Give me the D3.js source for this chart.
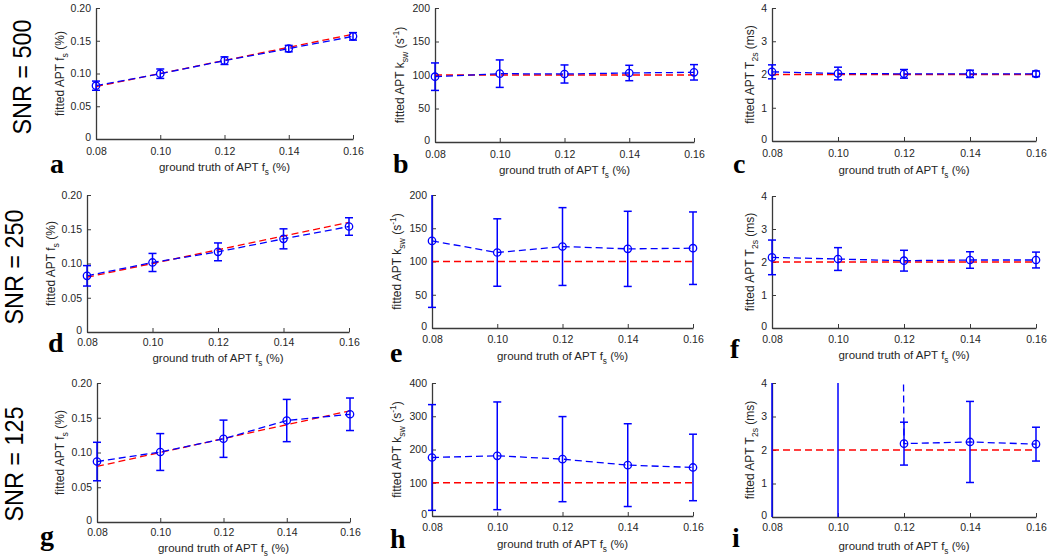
<!DOCTYPE html>
<html><head><meta charset="utf-8">
<script src="https://cdn.jsdelivr.net/npm/d3@7"></script>
<style>body{margin:0;background:#fff}svg{display:block}</style>
</head><body>
<svg id="chart" width="1050" height="560"></svg>
<script>
// ---------- data ----------
const groundTruthFs = [0.08, 0.10, 0.12, 0.14, 0.16];
const xTickValues = [0.08, 0.10, 0.12, 0.14, 0.16];
const fsTicks = [0, 0.05, 0.10, 0.15, 0.20];
const ksw200Ticks = [0, 50, 100, 150, 200];
const ksw400Ticks = [0, 100, 200, 300, 400];
const t2sTicks = [0, 1, 2, 3, 4];
const snrLabels = ["SNR = 500", "SNR = 250", "SNR = 125"];
const panelLetters = ["a", "b", "c", "d", "e", "f", "g", "h", "i"];

const trueFs = [0.08, 0.10, 0.12, 0.14, 0.16];
const trueKsw = [100, 100, 100, 100, 100];
const trueT2s = [2, 2, 2, 2, 2];

// SNR = 500
const fs500 = [0.0814, 0.0997, 0.1196, 0.1380, 0.1567];
const fs500Err = [0.0070, 0.0072, 0.0058, 0.0049, 0.0057];
const ksw500 = [97.5, 102, 101.5, 103, 104];
const ksw500Err = [20.5, 20.5, 13.5, 11.5, 11.5];
const t2s500 = [2.08, 2.03, 2.02, 2.02, 2.02];
const t2s500Err = [0.21, 0.19, 0.13, 0.11, 0.085];
// SNR = 250
const fs250 = [0.0820, 0.1015, 0.1170, 0.1360, 0.1540];
const fs250Err = [0.0149, 0.0132, 0.0130, 0.0146, 0.0128];
const ksw250 = [131, 113.5, 122.5, 119, 120];
const ksw250Err = [100, 50.7, 58.5, 56.5, 54.5];
const t2s250 = [2.14, 2.09, 2.04, 2.06, 2.06];
const t2s250Err = [0.525, 0.345, 0.315, 0.25, 0.24];
// SNR = 125 (first two T2s fits are far off the axis range: estimated)
const fs125 = [0.0870, 0.1007, 0.1198, 0.1460, 0.1550];
const fs125Err = [0.0277, 0.0265, 0.0268, 0.0304, 0.0234];
const ksw125 = [176, 181, 171, 153, 146];
const ksw125Err = [159, 162, 128, 124.5, 100];
const t2s125 = [60, 250, 2.19, 2.24, 2.175];
const t2s125Err = [900, 2000, 0.64, 1.21, 0.505];

// ---------- layout ----------
const fsLabel = [["fitted APT f"], ["s", "sub"], [" (%)"]];
const kswLabel = [["fitted APT k"], ["sw", "sub"], [" (s"], ["-1", "sup"], [")"]];
const t2sLabel = [["fitted APT T"], ["2s", "sub"], [" (ms)"]];
const xLabel = [["ground truth of APT f"], ["s", "sub"], [" (%)"]];

const fmtFs = d => d === 0 ? "0" : d3.format(".2f")(d);
const fmtInt = d3.format("d");

const panels = [
  {l:96, r:353, t:8, b:139, dom:[0,0.2], ticks:fsTicks, fmt:fmtFs, lab:fsLabel, v:fs500, e:fs500Err, tr:trueFs, ylx:64, xly:171, pad:9, lx:50, ly:173},
  {l:435, r:694, t:8, b:142, dom:[0,200], ticks:ksw200Ticks, fmt:fmtInt, lab:kswLabel, v:ksw500, e:ksw500Err, tr:trueKsw, ylx:404, xly:174, pad:9, lx:393, ly:173},
  {l:772, r:1036, t:8, b:141, dom:[0,4], ticks:t2sTicks, fmt:fmtInt, lab:t2sLabel, v:t2s500, e:t2s500Err, tr:trueT2s, ylx:754, xly:174, pad:9, lx:733, ly:173},
  {l:87, r:349, t:195, b:332, dom:[0,0.2], ticks:fsTicks, fmt:fmtFs, lab:fsLabel, v:fs250, e:fs250Err, tr:trueFs, ylx:55, xly:362, pad:7, lx:48, ly:352},
  {l:432, r:693, t:195, b:328, dom:[0,200], ticks:ksw200Ticks, fmt:fmtInt, lab:kswLabel, v:ksw250, e:ksw250Err, tr:trueKsw, ylx:401, xly:360, pad:8, lx:390, ly:362},
  {l:772, r:1036, t:196, b:328, dom:[0,4], ticks:t2sTicks, fmt:fmtInt, lab:t2sLabel, v:t2s250, e:t2s250Err, tr:trueT2s, ylx:754, xly:359, pad:8, lx:730, ly:358},
  {l:97, r:350, t:383, b:522, dom:[0,0.2], ticks:fsTicks, fmt:fmtFs, lab:fsLabel, v:fs125, e:fs125Err, tr:trueFs, ylx:64, xly:552, pad:7, lx:40, ly:545},
  {l:432, r:693, t:383, b:516, dom:[0,400], ticks:ksw400Ticks, fmt:fmtInt, lab:kswLabel, v:ksw125, e:ksw125Err, tr:trueKsw, ylx:401, xly:548, pad:8, lx:390, ly:548},
  {l:772, r:1036, t:383, b:517, dom:[0,4], ticks:t2sTicks, fmt:fmtInt, lab:t2sLabel, v:t2s125, e:t2s125Err, tr:trueT2s, ylx:754, xly:550, pad:7, lx:732, ly:547}
];
const snrPos = [{x:31, y:77}, {x:23, y:267}, {x:23, y:464}];

const BLUE = "#0000ff", RED = "#ff0000", AX = "#3a3a3a", TXT = "#262626";
const svg = d3.select("#chart");

function rich(sel, parts, fs) {
  let off = 0;
  parts.forEach(([s, k]) => {
    const target = k === "sub" ? fs * 0.32 : k === "sup" ? -fs * 0.42 : 0;
    const t = sel.append("tspan").text(s).attr("dy", target - off);
    if (k) t.attr("font-size", fs * 0.72);
    off = target;
  });
}

panels.forEach((p, i) => {
  const g = svg.append("g");
  const x = d3.scaleLinear().domain([0.08, 0.16]).range([p.l, p.r]);
  const y = d3.scaleLinear().domain(p.dom).range([p.b, p.t]);

  const clipId = "clip" + i;
  svg.append("clipPath").attr("id", clipId).append("rect")
    .attr("x", p.l - 8).attr("y", p.t).attr("width", p.r - p.l + 16).attr("height", p.b - p.t);

  // axes
  const ya = g.append("g").attr("transform", `translate(${p.l},0)`)
    .call(d3.axisLeft(y).tickValues(p.ticks).tickFormat(p.fmt).tickSizeInner(-4).tickSizeOuter(0).tickPadding(5));
  const xa = g.append("g").attr("transform", `translate(0,${p.b})`)
    .call(d3.axisBottom(x).tickValues(xTickValues).tickFormat(d3.format(".2f")).tickSizeInner(-4).tickSizeOuter(0).tickPadding(p.pad));
  [ya, xa].forEach(a => {
    a.select(".domain").attr("stroke", AX).attr("stroke-width", 1.3);
    a.selectAll(".tick line").attr("stroke", AX);
    a.selectAll(".tick text").attr("fill", TXT).attr("font-size", 10.5).attr("font-family", "Liberation Sans, Arial, sans-serif");
  });
  // the y-axis "0" label sits slightly above the tick so it clears the x labels
  ya.selectAll(".tick text").filter(d => d === 0).attr("dy", "0.1em");

  const data = groundTruthFs.map((gt, j) => ({gt, v: p.v[j], e: p.e[j], tr: p.tr[j]}));
  const plot = g.append("g").attr("clip-path", `url(#${clipId})`);

  // true value (red dashed)
  plot.append("path").datum(data)
    .attr("d", d3.line().x(d => x(d.gt)).y(d => y(d.tr)))
    .attr("fill", "none").attr("stroke", RED).attr("stroke-width", 1.3).attr("stroke-dasharray", "7,4");

  // fitted (blue dashed)
  plot.append("path").datum(data)
    .attr("d", d3.line().x(d => x(d.gt)).y(d => y(d.v)))
    .attr("fill", "none").attr("stroke", BLUE).attr("stroke-width", 1.3).attr("stroke-dasharray", "7,4");

  // error bars
  const eb = plot.selectAll(".eb").data(data).enter().append("g");
  eb.append("line").attr("x1", d => x(d.gt)).attr("x2", d => x(d.gt))
    .attr("y1", d => y(d.v - d.e)).attr("y2", d => y(d.v + d.e))
    .attr("stroke", BLUE).attr("stroke-width", 1.5);
  [-1, 1].forEach(s => {
    eb.append("line").attr("x1", d => x(d.gt) - 4).attr("x2", d => x(d.gt) + 4)
      .attr("y1", d => y(d.v + s * d.e)).attr("y2", d => y(d.v + s * d.e))
      .attr("stroke", BLUE).attr("stroke-width", 1.5);
  });
  eb.append("circle").attr("cx", d => x(d.gt)).attr("cy", d => y(d.v)).attr("r", 3.7)
    .attr("fill", "none").attr("stroke", BLUE).attr("stroke-width", 1.3);

  // y label
  const yl = g.append("text")
    .attr("transform", `translate(${p.ylx},${(p.t + p.b) / 2}) rotate(-90)`)
    .attr("text-anchor", "middle").attr("fill", TXT).attr("font-size", 12)
    .attr("font-family", "Liberation Sans, Arial, sans-serif");
  rich(yl, p.lab, 12);

  // x label
  const xl = g.append("text").attr("x", (p.l + p.r) / 2).attr("y", p.xly)
    .attr("text-anchor", "middle").attr("fill", TXT).attr("font-size", 11.5)
    .attr("font-family", "Liberation Sans, Arial, sans-serif");
  rich(xl, xLabel, 11.5);

  // panel letter
  g.append("text").attr("x", p.lx).attr("y", p.ly).text(panelLetters[i])
    .attr("font-family", "Liberation Serif, Times New Roman, serif").attr("font-weight", "bold")
    .attr("font-size", 28).attr("fill", "#000");
});

snrLabels.forEach((s, i) => {
  svg.append("text").attr("transform", `translate(${snrPos[i].x},${snrPos[i].y}) rotate(-90)`)
    .attr("text-anchor", "middle").attr("font-family", "Liberation Sans, Arial, sans-serif")
    .attr("font-size", 26).attr("fill", "#000")
    .attr("textLength", 115).attr("lengthAdjust", "spacingAndGlyphs").text(s);
});
</script>
</body></html>
